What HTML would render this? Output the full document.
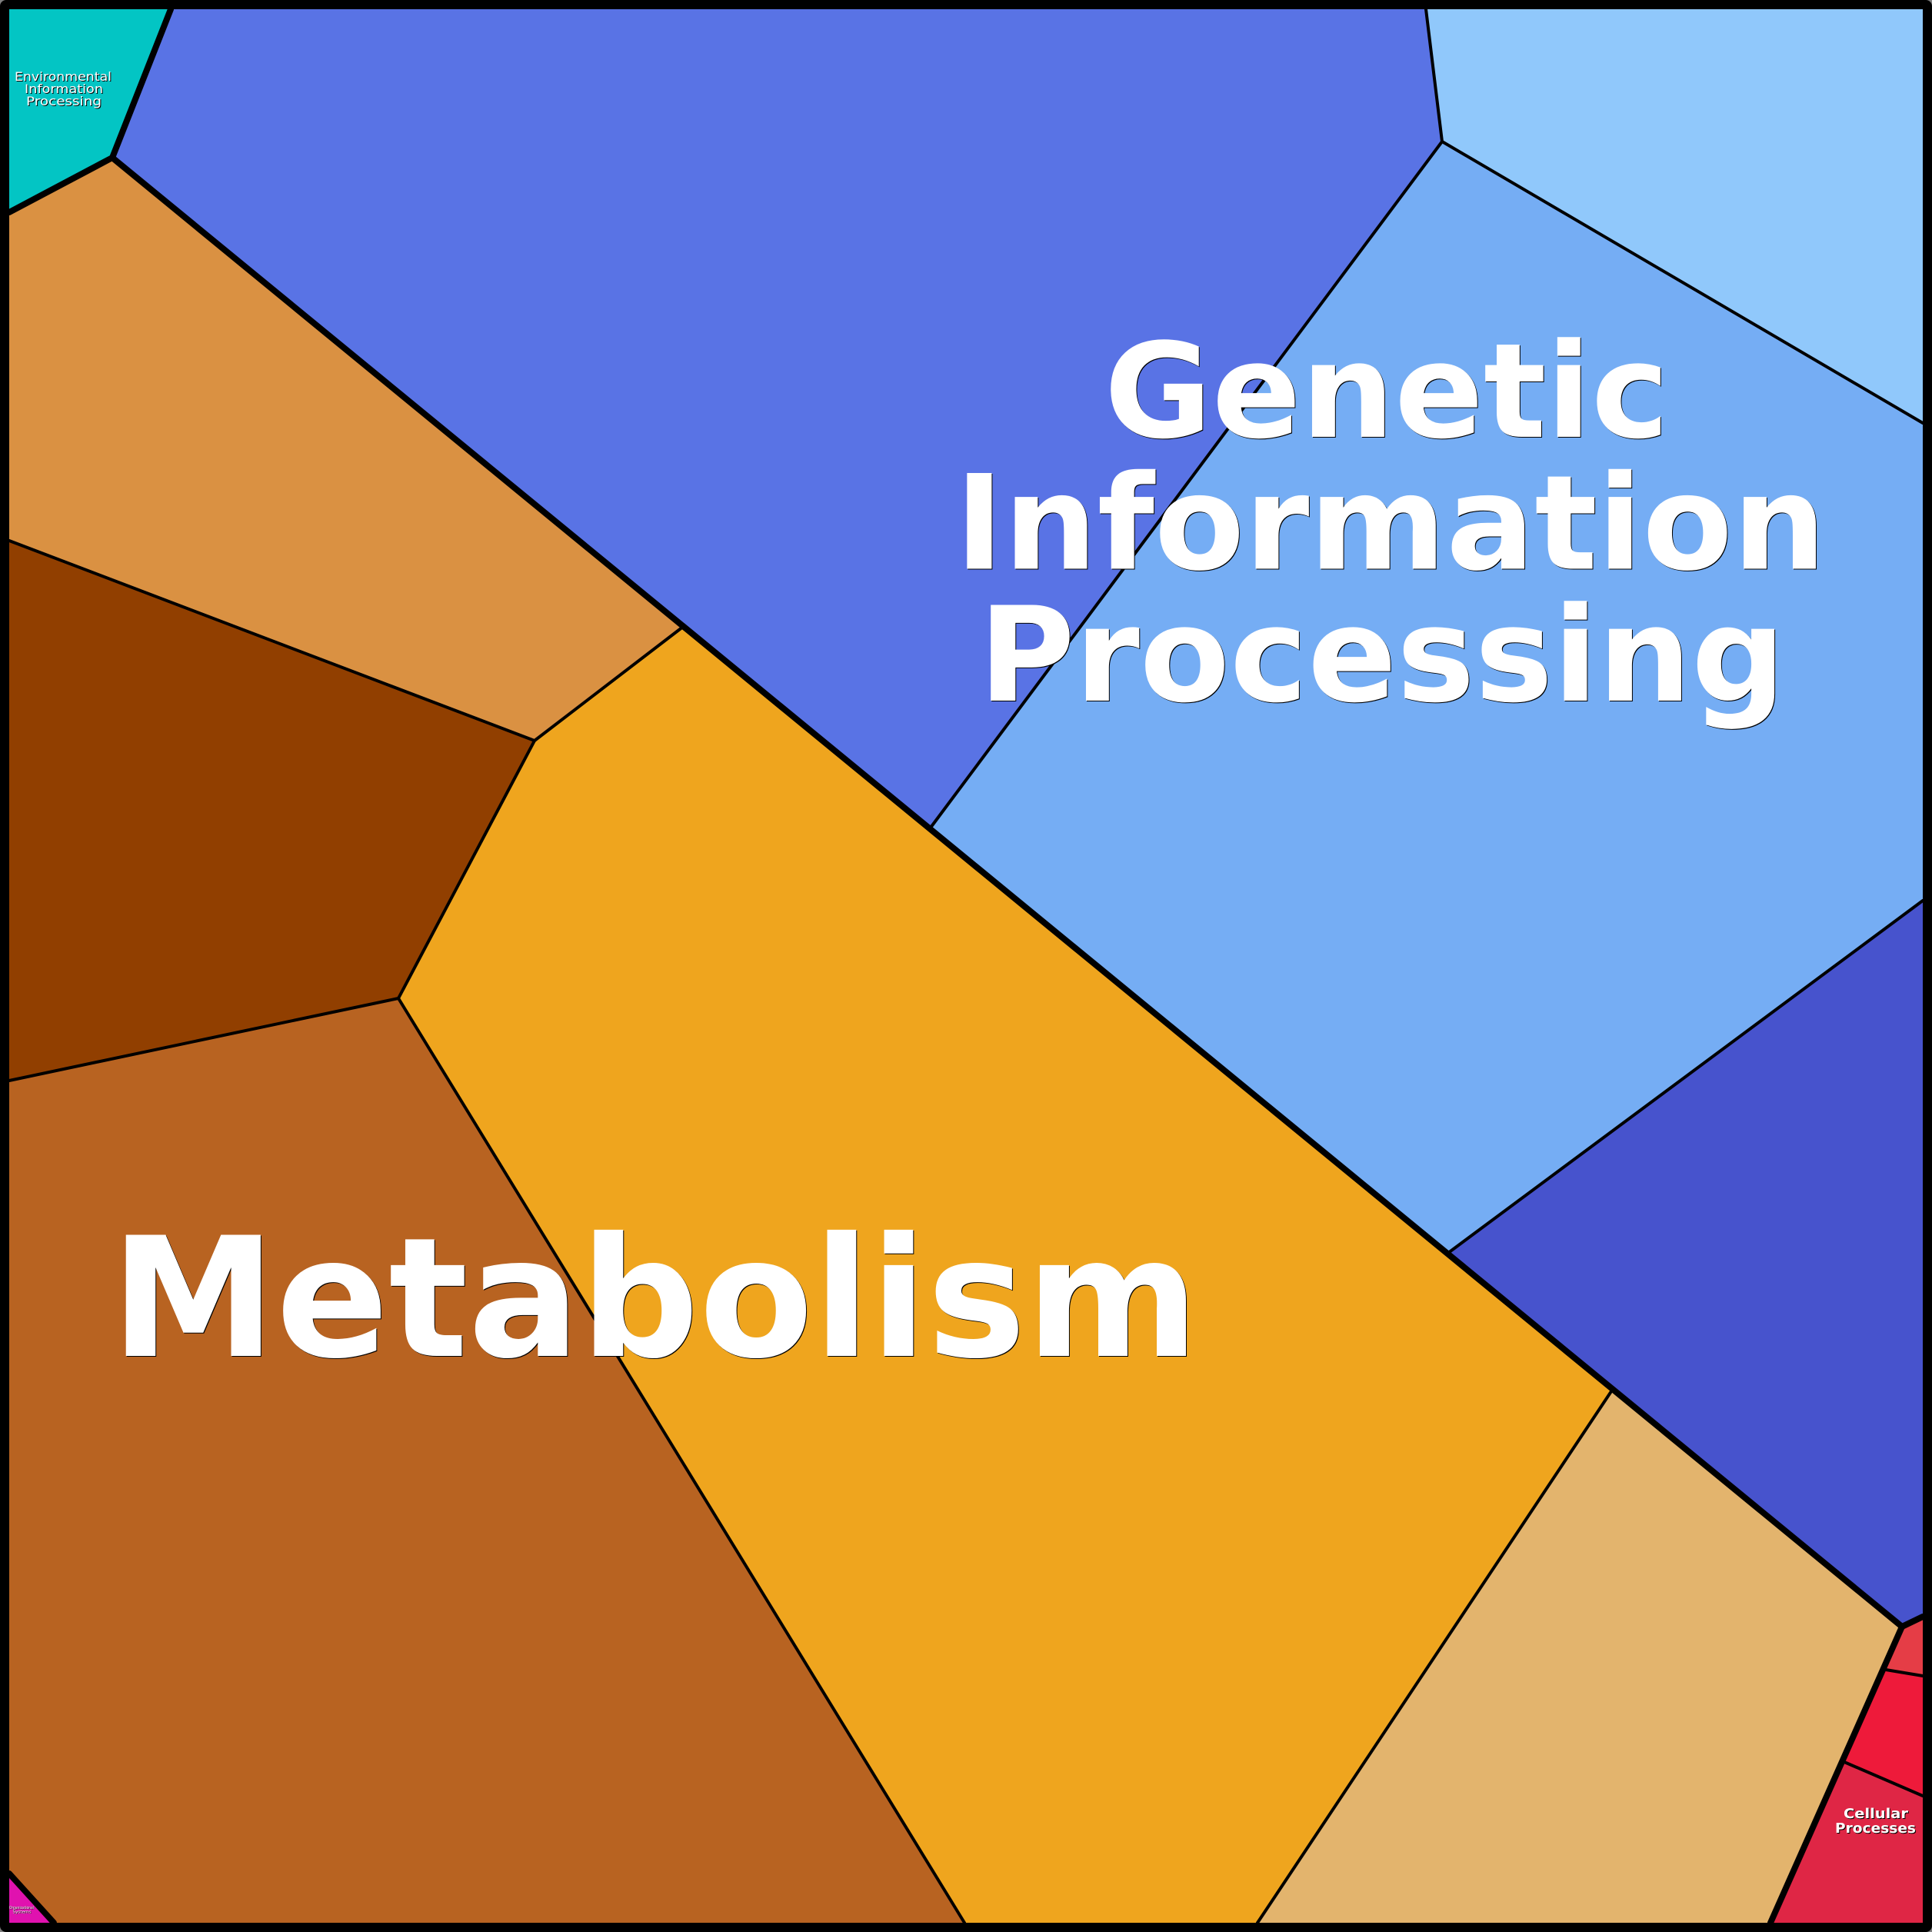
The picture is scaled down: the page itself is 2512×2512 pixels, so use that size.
<!DOCTYPE html>
<html><head><meta charset="utf-8"><style>
html,body{margin:0;padding:0;background:#808080;width:2512px;height:2512px;overflow:hidden}
svg{display:block}
text{font-family:"DejaVu Sans",sans-serif;text-anchor:middle}
</style></head><body>
<svg xmlns="http://www.w3.org/2000/svg" width="2512" height="2512" viewBox="0 0 2512 2512">
<rect x="0" y="0" width="2512" height="2512" rx="8" fill="#000"/>
<g stroke="none">
<polygon fill="#03c5c4" points="12,12 222,12 146,205 12,276"/>
<polygon fill="#5973e5" points="222,12 1854,12 1875,184 1210,1076 146,205"/>
<polygon fill="#90c8fb" points="1854,12 2500,12 2500,550 1875,184"/>
<polygon fill="#75adf4" points="1875,184 2500,550 2500,1171 1883,1629 1210,1076"/>
<polygon fill="#4753cd" points="2500,1171 2500,2102 2473,2115 1883,1629"/>
<polygon fill="#da9142" points="12,276 146,205 888,815 695,963 12,703"/>
<polygon fill="#913f00" points="12,703 695,963 518,1298 12,1405"/>
<polygon fill="#b86321" points="12,1405 518,1298 1254,2500 70,2500 12,2436"/>
<polygon fill="#efa51e" points="888,815 1210,1076 1883,1629 2095,1809 1635,2500 1254,2500 518,1298 695,963"/>
<polygon fill="#e3b46d" points="2095,1809 2473,2115 2302,2500 1635,2500"/>
<polygon fill="#e53d46" points="2473,2115 2500,2102 2500,2179 2452,2171"/>
<polygon fill="#ee1a3a" points="2452,2171 2500,2179 2500,2335 2398,2291"/>
<polygon fill="#df2645" points="2398,2291 2500,2335 2500,2500 2302,2500"/>
<polygon fill="#e012af" points="12,2436 70,2500 12,2500"/>
</g>
<g fill="none" stroke="#000" stroke-width="4" stroke-linejoin="round" stroke-linecap="round">
<path d="M1854,12 L1875,184 L2500,550"/>
<path d="M1875,184 L1210,1076"/>
<path d="M2500,1171 L1883,1629"/>
<path d="M12,703 L695,963 L888,815"/>
<path d="M695,963 L518,1298 L12,1405"/>
<path d="M518,1298 L1254,2500"/>
<path d="M2095,1809 L1635,2500"/>
<path d="M2452,2171 L2500,2179"/>
<path d="M2398,2291 L2500,2335"/>
</g>
<g fill="none" stroke="#000" stroke-width="8" stroke-linejoin="round" stroke-linecap="round">
<path d="M222,12 L146,205 L12,276"/>
<path d="M146,205 L2473,2115 L2500,2102"/>
<path d="M2473,2115 L2302,2500"/>
<path d="M12,2436 L70,2500"/>
</g>
<g font-size="216" font-weight="bold">
<text x="852.5" y="1764" fill="#000">Metabolism</text>
<text x="851.5" y="1763" fill="#fff">Metabolism</text>
</g>
<g font-size="170.7" font-weight="bold">
<text x="1804" y="569" fill="#000">Genetic</text>
<text x="1803" y="568" fill="#fff">Genetic</text>
<text x="1809" y="740.5" fill="#000">Information</text>
<text x="1808" y="739.5" fill="#fff">Information</text>
<text x="1798" y="912" fill="#000">Processing</text>
<text x="1797" y="911" fill="#fff">Processing</text>
</g>
<g font-size="16">
<text x="83" y="106" fill="#000" textLength="126" lengthAdjust="spacingAndGlyphs">Environmental</text>
<text x="84" y="122" fill="#000" textLength="102" lengthAdjust="spacingAndGlyphs">Information</text>
<text x="84" y="138" fill="#000" textLength="98" lengthAdjust="spacingAndGlyphs">Processing</text>
<text x="82" y="105" fill="#fff" textLength="126" lengthAdjust="spacingAndGlyphs">Environmental</text>
<text x="83" y="121" fill="#fff" textLength="102" lengthAdjust="spacingAndGlyphs">Information</text>
<text x="83" y="137" fill="#fff" textLength="98" lengthAdjust="spacingAndGlyphs">Processing</text>
</g>
<g font-size="18" font-weight="bold">
<text x="2440" y="2365" fill="#000" textLength="84" lengthAdjust="spacingAndGlyphs">Cellular</text>
<text x="2439.5" y="2384" fill="#000" textLength="105" lengthAdjust="spacingAndGlyphs">Processes</text>
<text x="2439" y="2364" fill="#fff" textLength="84" lengthAdjust="spacingAndGlyphs">Cellular</text>
<text x="2438.5" y="2383" fill="#fff" textLength="105" lengthAdjust="spacingAndGlyphs">Processes</text>
</g>
<g font-size="5">
<text x="28.5" y="2482.5" fill="#000" textLength="32" lengthAdjust="spacingAndGlyphs">Organizational</text>
<text x="29" y="2488" fill="#000" textLength="24" lengthAdjust="spacingAndGlyphs">Systems</text>
<text x="28" y="2482" fill="#fff" textLength="32" lengthAdjust="spacingAndGlyphs">Organizational</text>
<text x="28.5" y="2487.5" fill="#fff" textLength="24" lengthAdjust="spacingAndGlyphs">Systems</text>
</g>
</svg>
</body></html>
